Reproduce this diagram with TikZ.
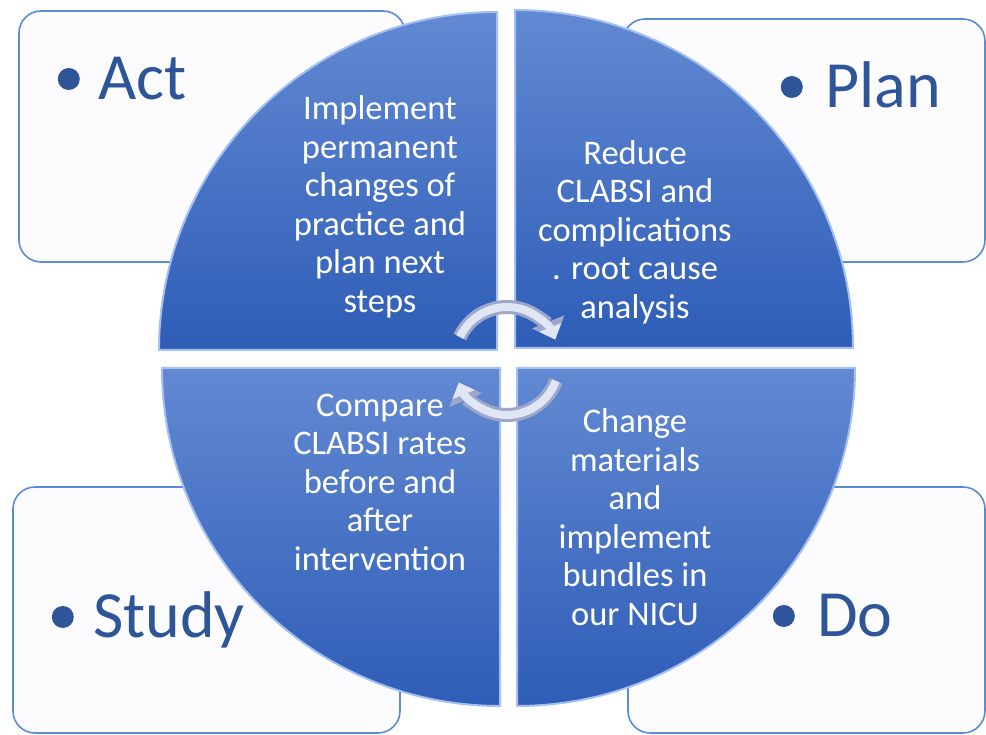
\documentclass[tikz,border=0pt]{standalone}
\usepackage{xcolor}
\definecolor{boxline}{HTML}{5B8AD6}
\definecolor{boxfill}{HTML}{FCFCFE}
\definecolor{headtext}{HTML}{2D5597}
\definecolor{quadtop}{HTML}{6289D2}
\definecolor{quadbottom}{HTML}{2E5DB7}
\definecolor{quadedge}{HTML}{A3C0F0}
\definecolor{arrowedge}{HTML}{9CA7CB}
\definecolor{arrowfill}{HTML}{E1E6F4}
\usepackage{fontspec}
\setmainfont{Carlito}
\usepackage{tikz}
\usetikzlibrary{arrows.meta}
\usetikzlibrary{positioning}
\tikzstyle{infobox} = [draw=boxline, fill=boxfill, line width=1.6pt, rounded corners=22pt]
\tikzstyle{quarter} = [top color=quadtop, bottom color=quadbottom, draw=quadedge,
    line width=2pt, line join=round]
\tikzstyle{phasehead} = [anchor=base west, text=headtext, inner sep=0pt,
    text height=42pt, text depth=0pt, font=\fontsize{66}{66}\selectfont]
\tikzstyle{bulletdot} = [circle, fill=headtext, inner sep=0pt, minimum size=22pt]
\tikzstyle{phasetext} = [text=white, align=center, inner sep=0pt,
    font=\fontsize{34.5}{38.5}\selectfont]
\tikzstyle{cycleedge} = [line width=14pt, draw=arrowedge, -{Triangle[length=19pt,width=34pt,color=arrowedge]}]
\tikzstyle{cyclefill} = [line width=8pt, draw=arrowfill, -{Triangle[length=13pt,width=23pt,color=arrowfill]}]

\begin{document}
\begin{tikzpicture}[x=1pt,y=1pt]
    \useasboundingbox (0,0) rectangle (986,735);

    % Outer boxes
    \draw [infobox] (19,473) rectangle (405,724);
    \draw [infobox] (623,473) rectangle (985,716);
    \draw [infobox] (13,2) rectangle (400,248);
    \draw [infobox] (628,2) rectangle (985,248);

    % Quarter circles
    \draw [quarter] (497,385) -- (159,385) arc (180:90:338) -- cycle;
    \draw [quarter] (515,387) -- (515,725) arc (90:0:338) -- cycle;
    \draw [quarter] (500,367) -- (500,29) arc (270:180:338) -- cycle;
    \draw [quarter] (517,367) -- (855,367) arc (0:-90:338) -- cycle;

    % Cycle arrows in the middle
    \draw [cycleedge] (507,376) ++(155:52) arc (155:22:52);
    \draw [cyclefill] (507,376) ++(155:52) arc (155:22:52);
    \draw [cycleedge] (507,372) ++(-20:52) arc (-20:-158:52);
    \draw [cyclefill] (507,372) ++(-20:52) arc (-20:-158:52);

    % Place nodes
    \node [phasehead] (act) at (98,635) {Act};
    \node [bulletdot, left=18pt of act.west] (actdot) {};
    \node [phasehead] (plan) at (825,627) {Plan};
    \node [bulletdot, left=22pt of plan.west] (plandot) {};
    \node [phasehead] (study) at (93,97) {Study};
    \node [bulletdot, left=19pt of study.west] (studydot) {};
    \node [phasehead] (do) at (817,98) {Do};
    \node [bulletdot, left=22pt of do.west] (dodot) {};

    \node [phasetext] (acttext) at (380,528) {Implement\\permanent\\changes of\\practice and\\plan next\\steps};
    \node [phasetext] (plantext) at (635,503) {Reduce\\CLABSI and\\complications\\. root cause\\analysis};
    \node [phasetext] (studytext) at (380,253) {Compare\\CLABSI rates\\before and\\after\\intervention};
    \node [phasetext] (dotext) at (635,218) {Change\\materials\\and\\implement\\bundles in\\our NICU};
\end{tikzpicture}
\end{document}
